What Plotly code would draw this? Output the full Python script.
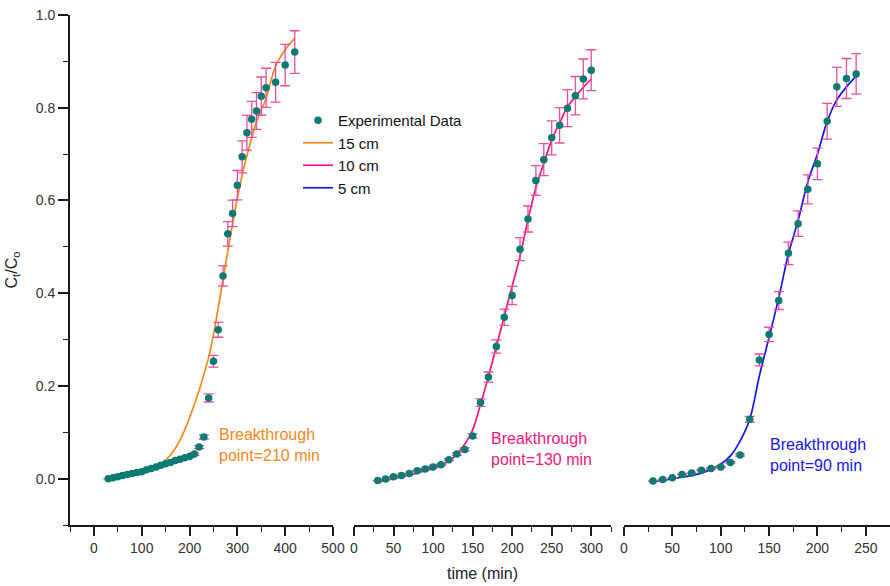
import plotly.graph_objects as go

# ---------------- data ----------------
t15 = [30, 40, 50, 60, 70, 80, 90, 100, 110, 120, 130, 140, 150, 160, 170, 180, 190, 200, 210, 220,
       230, 240, 250, 260, 270, 280, 290, 300, 310, 320, 330, 340, 350, 360, 380, 400, 420]
exp15 = [0.000, 0.002, 0.004, 0.007, 0.009, 0.011, 0.013, 0.015, 0.019, 0.022, 0.025, 0.029, 0.032,
         0.035, 0.039, 0.042, 0.045, 0.048, 0.053, 0.068, 0.090, 0.174, 0.253, 0.321, 0.437, 0.528,
         0.572, 0.633, 0.694, 0.746, 0.775, 0.793, 0.825, 0.843, 0.855, 0.892, 0.920]
fit15 = [0.000, 0.002, 0.004, 0.006, 0.008, 0.010, 0.012, 0.015, 0.018, 0.022, 0.026, 0.031, 0.040,
         0.051, 0.065, 0.083, 0.105, 0.132, 0.160, 0.190, 0.225, 0.262, 0.310, 0.368, 0.430, 0.490,
         0.550, 0.605, 0.655, 0.697, 0.735, 0.770, 0.795, 0.820, 0.890, 0.925, 0.950]

t10 = [30, 40, 50, 60, 70, 80, 90, 100, 110, 120, 130, 140, 150, 160, 170, 180, 190, 200, 210, 220,
       230, 240, 250, 260, 270, 280, 290, 300]
exp10 = [-0.004, -0.001, 0.004, 0.007, 0.011, 0.017, 0.021, 0.025, 0.030, 0.041, 0.053, 0.063, 0.092,
         0.164, 0.219, 0.285, 0.348, 0.395, 0.495, 0.560, 0.643, 0.688, 0.735, 0.762, 0.799, 0.826,
         0.862, 0.881]
fit10 = [-0.008, -0.004, 0.000, 0.004, 0.008, 0.012, 0.017, 0.022, 0.029, 0.038, 0.053, 0.074, 0.105,
         0.160, 0.220, 0.285, 0.350, 0.415, 0.480, 0.558, 0.628, 0.680, 0.730, 0.767, 0.802, 0.824,
         0.844, 0.862]

t5 = [30, 40, 50, 60, 70, 80, 90, 100, 110, 120, 130, 140, 150, 160, 170, 180, 190, 200, 210, 220,
      230, 240]
exp5 = [-0.005, -0.002, 0.002, 0.009, 0.012, 0.018, 0.022, 0.025, 0.035, 0.051, 0.128, 0.256, 0.311,
        0.384, 0.486, 0.550, 0.624, 0.679, 0.771, 0.845, 0.863, 0.873]
fit5 = [-0.007, -0.004, 0.000, 0.003, 0.007, 0.012, 0.020, 0.031, 0.049, 0.081, 0.128, 0.222, 0.305,
        0.390, 0.485, 0.557, 0.640, 0.700, 0.770, 0.817, 0.845, 0.868]

err_pct = 5  # error bars, percent of value

series_names = ["15 cm", "10 cm", "5 cm"]
fit_colors = ["#F7861C", "#F2167E", "#1616E8"]
notes = ["Breakthrough<br>point=210 min", "Breakthrough<br>point=130 min", "Breakthrough<br>point=90 min"]
note_pos = [(257, 0.073), (171, 0.064), (149, 0.052)]

x_ranges = [[-50, 500], [0, 325], [0, 275]]
x_dticks = [100, 50, 50]
x_minor = [50, 25, 25]

marker_color = "#0B7A72"
err_color = "#EA4FA0"
FONT = "Arial, Liberation Sans, sans-serif"
AX = "#1a1a1a"

W, H = 890, 586
domains = [[70 / W, 333 / W], [354 / W, 611 / W], [624 / W, 1.0]]
ydom = [(H - 525) / H, (H - 15) / H]

fig = go.Figure()
data_sets = [(t15, exp15, fit15), (t10, exp10, fit10), (t5, exp5, fit5)]
axes = ["x", "x2", "x3"]

for i, (t, e, f) in enumerate(data_sets):
    fig.add_trace(go.Scatter(
        x=t, y=f, mode="lines", name=series_names[i], xaxis=axes[i], yaxis="y",
        line=dict(color=fit_colors[i], width=1.7, shape="spline", smoothing=0.9), legendrank=10 + i,
    ))

for i, (t, e, f) in enumerate(data_sets):
    fig.add_trace(go.Scatter(
        x=t, y=e, mode="markers", name="Experimental Data", xaxis=axes[i], yaxis="y",
        marker=dict(color=marker_color, size=7.5),
        error_y=dict(type="percent", value=err_pct, color=err_color, thickness=1.3, width=5),
        showlegend=(i == 0), legendrank=1,
    ))

layout_axes = {}
for i in range(3):
    key = "xaxis" if i == 0 else f"xaxis{i + 1}"
    layout_axes[key] = dict(
        domain=domains[i], range=x_ranges[i], anchor="y", automargin=False,
        showline=True, linecolor=AX, linewidth=2,
        ticks="outside", ticklen=9, tickwidth=1.6, tickcolor=AX,
        tick0=0, dtick=x_dticks[i],
        minor=dict(dtick=x_minor[i], tick0=0, ticks="outside", ticklen=5, tickwidth=1.4, tickcolor=AX),
        showgrid=False, zeroline=False,
        tickfont=dict(family=FONT, size=14, color="#333"),
    )
layout_axes["xaxis2"]["title"] = dict(text="time (min)", font=dict(family=FONT, size=16, color="#222"), standoff=13)

fig.update_layout(
    **layout_axes,
    yaxis=dict(
        domain=ydom, range=[-0.1, 1.0], anchor="x", automargin=False,
        showline=True, linecolor=AX, linewidth=2,
        ticks="outside", ticklen=10, tickwidth=1.6, tickcolor=AX,
        tick0=0, dtick=0.2, tickformat=".1f",
        minor=dict(dtick=0.1, ticks="outside", ticklen=5, tickwidth=1.4, tickcolor=AX),
        showgrid=False, zeroline=False,
        tickfont=dict(family=FONT, size=14, color="#333"),
        title=dict(text="C<sub>t</sub>/C<sub>o</sub>", font=dict(family=FONT, size=16, color="#222"), standoff=14),
    ),
    width=W, height=H,
    margin=dict(l=0, r=0, t=0, b=0, autoexpand=False),
    paper_bgcolor="white", plot_bgcolor="white",
    showlegend=True,
    legend=dict(x=298 / W, y=(H - 104) / H, xanchor="left", yanchor="top",
                font=dict(family=FONT, size=15, color="#111"),
                bgcolor="rgba(0,0,0,0)", tracegroupgap=0),
)

for i in range(3):
    fig.add_annotation(
        x=note_pos[i][0], y=note_pos[i][1], xref=axes[i], yref="y",
        text=notes[i], showarrow=False, xanchor="left", yanchor="middle", align="left",
        font=dict(family=FONT, size=16, color=fit_colors[i]),
    )

fig.write_html("out.html")
